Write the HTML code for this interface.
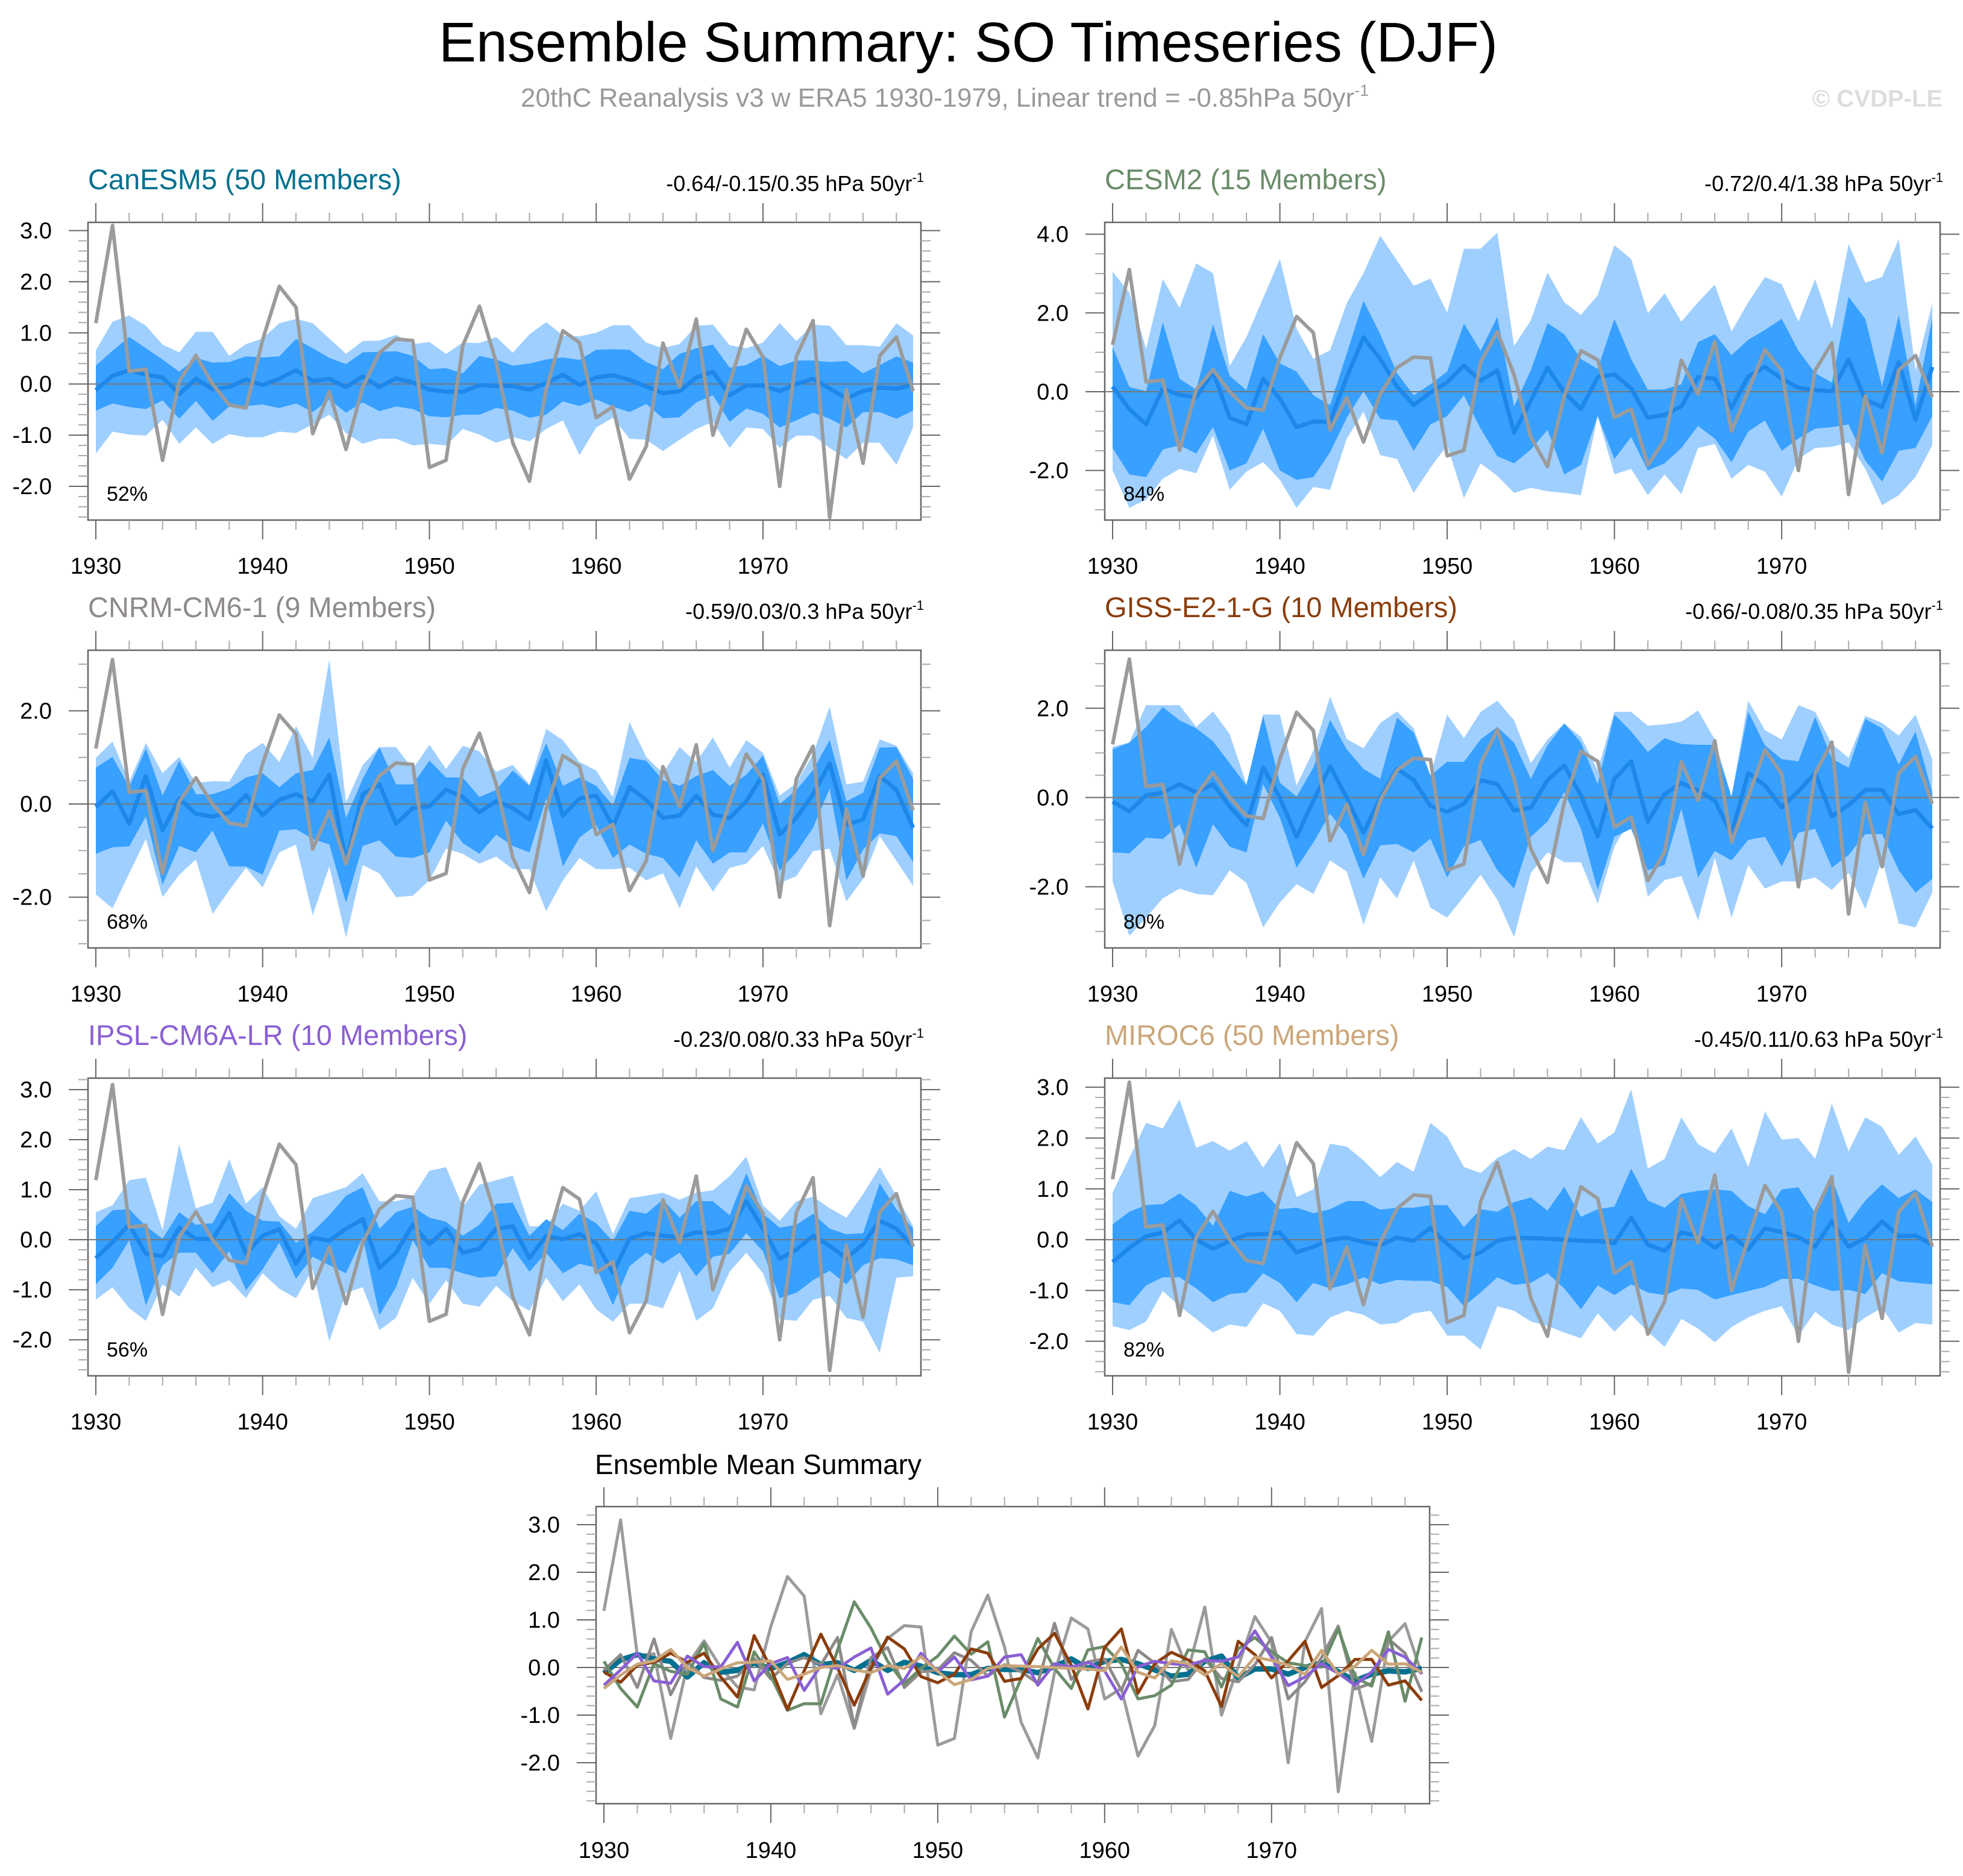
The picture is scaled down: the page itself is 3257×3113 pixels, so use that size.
<!DOCTYPE html>
<html><head><meta charset="utf-8"><title>Ensemble Summary: SO Timeseries (DJF)</title>
<style>html,body{margin:0;padding:0;background:#fff}svg{display:block;font-family:"Liberation Sans",Arial,sans-serif}</style>
</head><body>
<svg id="chart" xmlns="http://www.w3.org/2000/svg" width="3257" height="3113" viewBox="0 0 3257 3113">
<rect x="0" y="0" width="3257" height="3113" fill="#fff"/>
<text x="728" y="102" font-size="93" fill="#000">Ensemble Summary: SO Timeseries (DJF)</text>
<text x="864" y="177" font-size="44" fill="#999">20thC Reanalysis v3 w ERA5 1930-1979, Linear trend = -0.85hPa 50yr<tspan font-size="27" dy="-18">-1</tspan></text>
<text x="3223" y="177" font-size="40" font-weight="bold" fill="#ddd" text-anchor="end">© CVDP-LE</text>
</svg>
<script>
const years = Array.from({length:50},(_,i)=>1930+i);
const obs = [1.19,3.1,0.25,0.29,-1.49,0.05,0.56,0.0,-0.41,-0.47,0.86,1.91,1.5,-0.97,-0.15,-1.28,-0.06,0.61,0.88,0.85,-1.63,-1.49,0.75,1.52,0.43,-1.15,-1.9,-0.11,1.04,0.81,-0.66,-0.44,-1.86,-1.22,0.8,-0.06,1.27,-1.0,0.02,1.07,0.53,-2.0,0.54,1.24,-2.61,-0.11,-1.55,0.55,0.92,-0.14];

const canMean = [-0.12,0.16,0.27,0.18,0.13,-0.2,0.1,-0.1,-0.06,0.09,-0.02,0.1,0.27,0.06,0.1,-0.06,0.15,-0.06,0.11,0.03,-0.11,-0.15,-0.15,-0.02,-0.04,-0.04,-0.11,0.02,0.18,-0.02,0.13,0.17,0.08,-0.05,-0.18,-0.14,0.13,0.24,-0.22,-0.03,-0.03,-0.14,0.0,0.1,-0.09,-0.28,-0.14,-0.07,-0.09,-0.02];
const canInHi = [0.36,0.65,0.92,0.7,0.48,0.24,0.51,0.42,0.43,0.54,0.52,0.54,0.88,0.7,0.51,0.39,0.62,0.63,0.64,0.55,0.29,0.31,0.21,0.55,0.48,0.36,0.4,0.48,0.52,0.47,0.67,0.68,0.67,0.43,0.29,0.59,0.7,0.77,0.32,0.37,0.55,0.35,0.46,0.46,0.43,0.45,0.21,0.37,0.54,0.42];
const canInLo = [-0.52,-0.38,-0.45,-0.49,-0.32,-0.68,-0.33,-0.72,-0.44,-0.43,-0.4,-0.47,-0.38,-0.55,-0.3,-0.56,-0.36,-0.53,-0.44,-0.49,-0.63,-0.65,-0.6,-0.6,-0.47,-0.52,-0.66,-0.6,-0.34,-0.43,-0.3,-0.44,-0.55,-0.39,-0.67,-0.65,-0.36,-0.22,-0.74,-0.48,-0.58,-0.85,-0.71,-0.56,-0.68,-0.85,-0.55,-0.55,-0.68,-0.52];
const canOutHi = [0.66,1.22,1.34,1.14,0.77,0.62,1.02,1.02,0.55,0.78,0.89,1.19,1.27,1.19,0.89,0.59,0.84,0.85,0.96,0.78,0.82,0.59,0.81,0.8,0.92,0.61,0.97,1.21,0.95,0.93,1.0,1.15,1.15,0.81,0.7,0.78,1.14,1.16,0.76,0.7,0.81,1.19,0.84,1.16,1.14,0.76,0.76,0.73,1.19,0.95];
const canOutLo = [-1.36,-0.93,-0.99,-1.01,-0.7,-1.17,-0.85,-1.17,-0.98,-1.04,-1.04,-0.93,-0.96,-0.79,-0.6,-0.96,-1.17,-1.07,-1.07,-1.2,-1.17,-1.2,-0.88,-0.99,-1.15,-1.04,-1.12,-0.88,-0.71,-1.39,-0.85,-0.66,-1.07,-1.09,-1.31,-1.09,-0.88,-0.74,-1.25,-0.85,-0.88,-1.25,-1.01,-1.01,-1.25,-1.47,-1.15,-1.15,-1.58,-0.85];

const cesmMean = [0.13,-0.44,-0.83,0.08,-0.08,-0.14,0.51,-0.66,-0.83,0.33,-0.18,-0.9,-0.76,-0.76,0.37,1.38,0.83,0.13,-0.34,-0.02,0.24,0.66,0.28,0.54,-1.04,-0.23,0.61,-0.02,-0.44,0.37,0.44,0.08,-0.66,-0.59,-0.37,0.37,0.33,-0.41,0.39,0.63,0.33,0.1,0.04,0.01,0.81,-0.2,-0.39,0.75,-0.71,0.63];
const cesmInHi = [1.14,0.12,0.01,1.76,0.33,0.05,1.71,0.4,0.04,1.46,0.72,0.51,-0.09,-0.34,0.97,2.31,1.46,0.47,-0.09,0.19,0.51,1.73,1.04,1.9,-0.37,0.54,1.74,1.46,0.83,0.58,1.85,0.83,0.05,0.06,0.19,1.26,1.46,0.93,1.32,1.57,1.85,1.04,0.47,0.23,2.41,1.85,0.13,1.95,-0.34,1.88];
const cesmInLo = [-1.43,-2.1,-2.17,-1.47,-1.36,-1.57,-0.9,-2.0,-1.82,-0.94,-2.0,-2.24,-2.17,-1.54,-0.66,0.01,-0.69,-0.73,-1.5,-0.83,-0.62,-0.09,-0.94,-1.64,-1.82,-1.47,-0.97,-2.1,-1.86,-0.62,-1.71,-1.15,-2.0,-1.82,-1.43,-0.87,-1.19,-1.79,-1.01,-0.73,-1.5,-1.19,-0.94,-0.9,-0.83,-1.75,-2.28,-1.5,-1.43,-0.62];
const cesmOutHi = [3.05,2.52,1.09,2.86,2.13,3.26,3.01,0.65,1.39,2.38,3.37,1.6,0.84,1.05,2.25,3.01,3.96,3.33,2.69,2.87,2.01,3.63,3.63,4.04,1.16,1.81,3.03,2.27,1.95,2.45,3.72,3.37,1.99,2.5,1.78,2.27,2.72,1.53,2.27,2.91,2.73,1.78,2.86,1.6,3.75,2.77,2.91,3.87,0.54,2.24];
const cesmOutLo = [-2.0,-2.95,-2.74,-2.21,-1.96,-2.07,-1.11,-2.49,-2.03,-1.79,-2.24,-2.95,-2.42,-2.49,-1.19,-0.51,-1.61,-1.71,-2.57,-1.93,-1.36,-2.7,-1.82,-2.14,-2.57,-2.44,-2.53,-2.57,-2.63,-0.62,-2.1,-1.96,-2.63,-2.1,-2.6,-1.43,-1.33,-2.21,-1.86,-2.03,-2.67,-1.71,-1.43,-1.4,-1.29,-1.96,-2.88,-2.63,-2.17,-1.36];

const cnrmMean = [-0.06,0.27,-0.42,0.6,-0.57,0.12,-0.21,-0.27,-0.18,0.19,-0.24,0.09,0.21,0.06,0.63,-1.25,0.21,0.42,-0.42,-0.09,-0.05,0.31,0.15,-0.18,0.06,-0.09,-0.33,0.93,-0.25,0.12,0.18,-0.48,0.36,0.09,-0.3,-0.25,0.18,-0.23,-0.3,0.06,0.63,-0.66,-0.3,0.21,0.87,-0.45,-0.33,0.6,0.3,-0.51];
const cnrmInHi = [0.78,1.01,0.36,1.19,0.18,0.93,0.21,0.21,0.33,0.57,0.66,0.36,0.66,0.73,1.43,-0.3,0.54,1.22,0.42,0.42,0.93,0.57,0.57,0.15,0.3,0.72,0.39,1.31,0.39,0.57,0.39,-0.03,0.99,0.93,0.51,0.39,0.6,0.73,0.39,0.63,1.04,0.0,0.3,0.73,1.37,0.06,0.24,1.21,1.22,0.54];
const cnrmInLo = [-1.07,-0.93,-0.91,-0.27,-1.73,-0.9,-1.04,-0.57,-1.34,-1.34,-1.52,-0.57,-0.54,-0.75,-0.87,-2.12,-0.9,-0.78,-1.13,-1.16,-1.04,-0.36,-0.84,-1.07,-0.66,-0.9,-1.04,0.12,-1.34,-0.72,-0.45,-1.16,-0.87,-1.07,-1.16,-1.58,-0.78,-1.28,-1.04,-1.04,-0.42,-1.43,-1.04,-0.51,0.33,-1.64,-0.98,-0.63,-0.69,-1.25];
const cnrmOutHi = [0.99,1.34,0.48,1.31,0.66,1.01,0.45,0.49,0.48,1.07,1.31,0.9,1.67,0.99,3.1,0.03,0.84,1.22,1.22,0.75,1.27,0.75,1.25,1.13,0.69,0.84,0.42,1.61,1.37,0.9,0.72,0.15,1.76,1.01,0.66,1.22,0.9,1.43,0.78,1.37,1.1,0.18,0.45,1.07,2.09,0.42,0.48,1.39,1.25,0.66];
const cnrmOutLo = [-1.94,-2.24,-1.49,-0.75,-2.0,-1.52,-1.19,-2.36,-1.85,-1.37,-1.79,-1.04,-0.87,-2.39,-1.34,-2.87,-1.31,-1.49,-2.0,-1.97,-1.64,-0.96,-1.07,-1.28,-1.13,-1.4,-1.4,-2.3,-1.64,-1.16,-1.4,-1.4,-1.37,-1.64,-1.49,-2.24,-1.34,-1.88,-1.37,-1.28,-0.9,-1.7,-1.55,-1.01,-0.96,-2.09,-1.61,-0.69,-1.22,-1.76];

const gissMean = [-0.09,-0.31,0.05,0.11,0.3,0.11,0.3,-0.2,-0.62,0.67,-0.01,-0.88,-0.07,0.7,-0.01,-0.79,-0.01,0.64,0.39,-0.19,-0.32,-0.14,0.39,0.3,-0.29,-0.23,0.39,0.72,0.05,-0.87,0.42,0.81,-0.54,0.08,0.32,0.16,-0.07,-0.82,0.55,0.27,-0.22,0.14,0.55,-0.42,-0.17,0.17,0.17,-0.37,-0.28,-0.69];
const gissInHi = [1.08,1.23,1.58,2.03,1.73,1.55,1.26,0.77,0.27,1.83,0.33,0.02,0.67,1.74,1.08,0.64,0.42,1.79,1.45,0.49,0.8,0.8,1.3,1.58,1.23,0.42,1.17,1.66,1.23,0.3,1.86,1.48,1.02,1.33,1.2,1.18,1.18,0.02,1.92,1.17,0.86,0.81,1.81,0.87,0.67,1.76,1.55,0.74,1.48,0.11];
const gissInLo = [-1.23,-1.25,-0.9,-0.93,-0.6,-1.57,-0.6,-1.1,-1.23,0.3,-0.45,-1.57,-1.01,-0.36,-0.85,-1.82,-1.07,-1.04,-1.23,-0.92,-1.79,-1.1,-0.95,-1.63,-2.04,-0.88,-0.54,0.12,-0.7,-2.07,-0.88,-0.7,-1.63,-1.51,-0.25,-1.79,-1.2,-1.41,-0.95,-0.88,-1.54,-0.79,-0.7,-1.57,-1.29,-0.82,-0.82,-1.63,-2.13,-1.82];
const gissOutHi = [1.14,1.23,2.07,2.07,2.07,1.58,1.93,1.42,0.3,1.86,1.86,0.27,1.05,2.26,1.31,1.1,1.67,1.93,1.55,0.5,1.86,1.33,1.92,2.17,1.73,0.77,1.3,1.66,1.36,0.61,1.92,1.92,1.61,1.64,1.7,1.95,1.3,0.02,2.17,1.51,1.3,2.07,1.92,1.2,0.89,1.83,1.67,1.39,1.86,0.86];
const gissOutLo = [-1.88,-3.1,-2.69,-2.26,-2.04,-2.16,-2.19,-1.63,-1.91,-2.91,-2.35,-1.94,-2.16,-1.41,-1.66,-2.85,-1.79,-2.26,-1.41,-2.47,-2.69,-2.22,-1.73,-2.29,-3.13,-1.69,-1.23,-1.45,-1.45,-2.38,-1.1,-0.45,-2.22,-1.85,-1.76,-2.75,-1.35,-2.69,-1.51,-2.04,-1.88,-1.88,-1.79,-2.07,-1.69,-2.5,-1.38,-2.82,-2.91,-2.13];

const ipslMean = [-0.37,-0.05,0.3,-0.28,-0.33,0.24,0.02,0.01,0.53,-0.28,0.08,0.21,-0.48,0.04,-0.02,0.22,0.41,-0.56,-0.26,0.3,-0.09,0.22,-0.26,-0.18,0.22,0.27,-0.37,0.08,0.01,0.11,-0.07,-0.66,0.02,0.13,0.08,0.05,0.15,0.13,0.22,0.77,0.22,-0.38,-0.2,0.08,-0.12,-0.37,-0.09,0.38,0.22,-0.13];
const ipslInHi = [0.27,0.59,0.61,0.27,0.02,0.55,0.3,0.33,0.93,0.58,0.38,0.36,-0.06,0.16,0.49,0.88,1.05,0.22,0.55,0.66,0.44,0.36,0.08,0.3,0.72,0.74,0.08,0.41,0.19,0.52,0.33,-0.03,0.58,0.52,0.8,0.44,0.77,0.77,0.49,1.33,0.52,0.24,0.3,0.52,0.22,0.11,0.13,1.13,0.61,0.22];
const ipslInLo = [-0.89,-0.56,-0.01,-1.31,-0.51,-0.26,-0.26,-0.67,-0.23,-1.01,-0.59,-0.06,-0.78,-0.34,-0.51,-0.67,0.05,-1.51,-0.95,-0.01,-0.56,-0.56,-0.67,-0.76,-0.73,-0.17,-0.64,-0.26,-0.67,-0.48,-0.56,-1.31,-0.53,-0.26,-0.48,-0.26,-0.73,-0.34,-0.28,0.13,-0.23,-1.17,-1.06,-0.81,-0.62,-0.89,-0.51,-0.37,-0.39,-0.51];
const ipslOutHi = [0.55,0.69,1.19,1.24,0.19,1.91,0.63,0.74,1.61,0.72,1.05,0.47,0.22,0.83,0.94,1.05,1.33,0.77,0.77,0.86,1.38,1.45,0.66,1.1,1.19,1.28,0.27,0.27,0.72,0.58,0.97,0.11,0.83,0.88,0.94,0.8,0.94,0.99,1.27,1.66,0.69,0.38,0.77,0.86,0.63,0.44,0.91,1.45,0.88,0.27];
const ipslOutLo = [-1.2,-0.95,-1.37,-1.62,-0.89,-1.14,-0.56,-0.95,-0.81,-1.17,-0.67,-0.98,-1.17,-0.59,-2.03,-1.06,-0.95,-1.81,-1.56,-0.76,-1.28,-0.81,-1.28,-1.34,-0.92,-1.23,-1.42,-0.76,-1.23,-0.89,-1.39,-1.64,-1.28,-1.28,-1.37,-0.62,-1.62,-1.37,-0.64,-0.26,-0.67,-1.59,-1.62,-1.2,-1.12,-1.56,-1.64,-2.26,-0.76,-0.73];

const mirocMean = [-0.44,-0.16,0.07,0.14,0.38,0.0,-0.18,-0.03,0.1,0.11,0.14,-0.25,-0.14,0.0,0.04,-0.05,-0.11,0.04,-0.02,0.23,-0.08,-0.36,-0.25,-0.02,0.04,0.03,0.02,0.0,-0.02,-0.03,-0.07,0.43,-0.1,-0.22,0.14,0.08,-0.16,0.08,-0.19,0.22,0.15,0.05,-0.14,0.36,-0.14,0.03,0.36,0.07,0.08,-0.1];
const mirocInHi = [0.3,0.55,0.68,0.7,0.91,0.67,0.27,0.96,0.85,0.95,0.6,0.63,0.52,0.6,0.76,0.76,0.59,0.63,0.63,0.68,0.68,0.25,0.6,0.55,0.74,0.83,0.57,1.04,0.45,0.6,0.65,1.4,0.77,0.63,0.9,0.96,0.99,0.96,0.66,0.5,0.99,1.03,0.52,1.2,0.33,0.77,1.09,0.82,0.99,0.74];
const mirocInLo = [-1.23,-1.29,-0.9,-0.74,-0.74,-0.96,-1.23,-1.07,-1.04,-0.66,-0.85,-1.23,-0.85,-0.96,-0.88,-0.74,-0.88,-0.79,-0.81,-0.81,-0.93,-1.31,-1.04,-0.74,-0.89,-0.85,-0.66,-0.96,-1.37,-0.9,-1.09,-0.88,-1.04,-1.09,-0.96,-0.99,-1.18,-1.09,-1.01,-0.93,-0.77,-0.77,-0.9,-1.01,-0.99,-1.07,-0.66,-0.82,-0.85,-0.88];
const mirocOutHi = [0.93,1.61,2.3,2.19,2.76,1.81,1.94,1.75,1.94,1.42,1.9,0.84,0.99,1.89,1.83,1.56,1.23,1.53,1.34,2.3,2.03,1.43,1.31,1.61,1.78,1.59,1.83,1.76,2.41,1.89,2.11,2.96,1.4,1.59,2.41,1.88,1.7,2.19,1.43,2.52,1.97,2.0,1.59,2.68,1.74,2.41,2.22,1.67,2.03,1.48];
const mirocOutLo = [-1.7,-1.78,-1.61,-1.01,-1.31,-1.56,-1.83,-1.67,-1.72,-1.25,-1.4,-1.86,-1.89,-1.53,-1.4,-1.48,-1.67,-1.64,-1.45,-1.4,-1.89,-1.89,-2.16,-1.31,-1.4,-1.61,-1.7,-1.83,-1.94,-1.45,-1.81,-1.48,-1.81,-2.11,-1.56,-1.75,-2.02,-1.72,-1.53,-1.4,-1.31,-1.89,-1.42,-1.67,-1.78,-1.53,-1.34,-1.83,-1.64,-1.67];

const modelNames = ["CanESM5 (50 Members)","CESM2 (15 Members)","CNRM-CM6-1 (9 Members)","GISS-E2-1-G (10 Members)","IPSL-CM6A-LR (10 Members)","MIROC6 (50 Members)"];
const modelStats = ["-0.64/-0.15/0.35","-0.72/0.4/1.38","-0.59/0.03/0.3","-0.66/-0.08/0.35","-0.23/0.08/0.33","-0.45/0.11/0.63"];
const modelPct = ["52%","84%","68%","80%","56%","82%"];
const xTickLabels = [1930,1940,1950,1960,1970];

const svg = document.getElementById('chart');
const NS = 'http://www.w3.org/2000/svg';
function mk(tag, attrs, parent){
  const e = document.createElementNS(NS, tag);
  for (const k in attrs) e.setAttribute(k, attrs[k]);
  (parent||svg).appendChild(e);
  return e;
}
const colors = ['#00708f','#6a8c69','#8f8a8a','#8b3d0c','#8a5fd4','#cba67a'];
const boxes = [
  {x:146,y:369,w:1382,h:494},{x:1833,y:369,w:1386,h:494},
  {x:146,y:1079,w:1382,h:494},{x:1833,y:1079,w:1386,h:494},
  {x:146,y:1789,w:1382,h:494},{x:1833,y:1789,w:1386,h:494}];
const ranges = [[-2.66,3.16,1,0.2],[-3.26,4.30,2,0.5],[-3.09,3.30,2,0.5],[-3.37,3.30,2,0.5],[-2.72,3.23,1,0.2],[-2.68,3.18,1,0.2]];
const series = [
  [canMean,canInLo,canInHi,canOutLo,canOutHi],
  [cesmMean,cesmInLo,cesmInHi,cesmOutLo,cesmOutHi],
  [cnrmMean,cnrmInLo,cnrmInHi,cnrmOutLo,cnrmOutHi],
  [gissMean,gissInLo,gissInHi,gissOutLo,gissOutHi],
  [ipslMean,ipslInLo,ipslInHi,ipslOutLo,ipslOutHi],
  [mirocMean,mirocInLo,mirocInHi,mirocOutLo,mirocOutHi]];

function axes(box, ymin, ymax){
  const xs = yr => box.x + (yr - 1929.53) / (1979.47 - 1929.53) * box.w;
  const ys = v => box.y + box.h - (v - ymin) / (ymax - ymin) * box.h;
  return {xs, ys};
}
function linePts(vals, xs, ys){ return vals.map((v,i)=>xs(years[i]).toFixed(1)+','+ys(v).toFixed(1)).join(' '); }
function bandPts(lo, hi, xs, ys){
  const a = hi.map((v,i)=>xs(years[i]).toFixed(1)+','+ys(v).toFixed(1));
  const b = lo.map((v,i)=>xs(years[i]).toFixed(1)+','+ys(v).toFixed(1)).reverse();
  return a.concat(b).join(' ');
}

function frame(g, box, ymin, ymax, major, minor, xs, ys, idx){
  for (let yr=1930; yr<=1979; yr+=2){
    const isMaj = (yr%10===0);
    const x = xs(yr); const L = isMaj?32:16; const c = isMaj?'#666':'#aaa';
    const t1 = mk('line',{x1:x,x2:x,y1:box.y-L,y2:box.y,stroke:c,'stroke-width':2},g);
    
    
    const t2 = mk('line',{x1:x,x2:x,y1:box.y+box.h,y2:box.y+box.h+L,stroke:c,'stroke-width':2},g);
    
    
  }
  const n0 = Math.ceil(ymin/minor - 1e-6), n1 = Math.floor(ymax/minor + 1e-6);
  for (let n=n0; n<=n1; n++){
    const v = n*minor; const isMaj = Math.abs(v/major - Math.round(v/major))<1e-6;
    const y = ys(v); const L = isMaj?32:16; const c = isMaj?'#666':'#aaa';
    const t1 = mk('line',{x1:box.x-L,x2:box.x,y1:y,y2:y,stroke:c,'stroke-width':2},g);
    
    
    const t2 = mk('line',{x1:box.x+box.w,x2:box.x+box.w+L,y1:y,y2:y,stroke:c,'stroke-width':2},g);
    
    
    if (isMaj){
      const lab = mk('text',{x:box.x-60,y:y+13,'font-size':38,'text-anchor':'end',fill:'#000'},g);
      lab.textContent = (Math.abs(v)<1e-9?0:v).toFixed(1);
      
      
    }
  }
  xTickLabels.forEach(yr=>{
    const lab = mk('text',{x:xs(yr),y:box.y+583,'font-size':38,'text-anchor':'middle',fill:'#000'},g);
    lab.textContent = yr;
    
    
  });
}

function clip(box, id){
  const cp = mk('clipPath',{id:id});
  mk('rect',{x:box.x,y:box.y,width:box.w,height:box.h},cp);
}

series.forEach((s,i)=>{
  const box = boxes[i]; const [ymin,ymax,major,minor] = ranges[i];
  const {xs, ys} = axes(box, ymin, ymax);
  const g = mk('g',{});
  
  
  clip(box,'clip'+i);
  const inner = mk('g',{'clip-path':'url(#clip'+i+')'},g);
  const ob = mk('polygon',{points:bandPts(s[3],s[4],xs,ys),fill:'#9fcfff'},inner);
  
  
  const ib = mk('polygon',{points:bandPts(s[1],s[2],xs,ys),fill:'#38a0ff'},inner);
  
  
  const z = mk('line',{x1:box.x,x2:box.x+box.w,y1:ys(0),y2:ys(0),stroke:'#777','stroke-width':2},inner);
  
  
  const m = mk('polyline',{points:linePts(s[0],xs,ys),fill:'none',stroke:'#1e88ea','stroke-width':7,'stroke-linejoin':'round'},inner);
  
  
  const o = mk('polyline',{points:linePts(obs,xs,ys),fill:'none',stroke:'#9b9b9b','stroke-width':6,'stroke-linejoin':'round'},inner);
  
  
  const r = mk('rect',{x:box.x,y:box.y,width:box.w,height:box.h,fill:'none',stroke:'#666','stroke-width':2.5},g);
  
  
  frame(g, box, ymin, ymax, major, minor, xs, ys, i);
  const t = mk('text',{x:box.x,y:box.y-55,'font-size':47,fill:colors[i]},g);
  t.textContent = modelNames[i];
  
  
  const st = mk('text',{x:box.x+box.w+5,y:box.y-52,'font-size':36,'text-anchor':'end',fill:'#000'},g);
  st.textContent = modelStats[i]+' hPa 50yr';
  const sup = mk('tspan',{'font-size':22,dy:-15},st);
  sup.textContent = '-1';
  
  
  const p = mk('text',{x:box.x+31,y:box.y+462,'font-size':34,fill:'#000'},g);
  p.textContent = modelPct[i];
  
  
});

(function(){
  const box = {x:989,y:2500,w:1383,h:493};
  const ymin=-2.86, ymax=3.38;
  const {xs, ys} = axes(box, ymin, ymax);
  const g = mk('g',{});
  
  
  clip(box,'clipB');
  const inner = mk('g',{'clip-path':'url(#clipB)'},g);
  const z = mk('line',{x1:box.x,x2:box.x+box.w,y1:ys(0),y2:ys(0),stroke:'#777','stroke-width':2},inner);
  
  
  const o = mk('polyline',{points:linePts(obs,xs,ys),fill:'none',stroke:'#9b9b9b','stroke-width':5,'stroke-linejoin':'round'},inner);
  
  
  const order = [0,2,1,3,4,5];
  order.forEach(i=>{
    const l = mk('polyline',{points:linePts(series[i][0],xs,ys),fill:'none',stroke:colors[i],'stroke-width':i===0?9:5,'stroke-linejoin':'round'},inner);
    
    
  });
  const r = mk('rect',{x:box.x,y:box.y,width:box.w,height:box.h,fill:'none',stroke:'#666','stroke-width':2.5},g);
  
  
  frame(g, box, ymin, ymax, 1, 0.2, xs, ys, 6);
  const t = mk('text',{x:987,y:2446,'font-size':46,fill:'#000'},g);
  t.textContent = 'Ensemble Mean Summary';
  
  
})();
</script>
</body></html>
